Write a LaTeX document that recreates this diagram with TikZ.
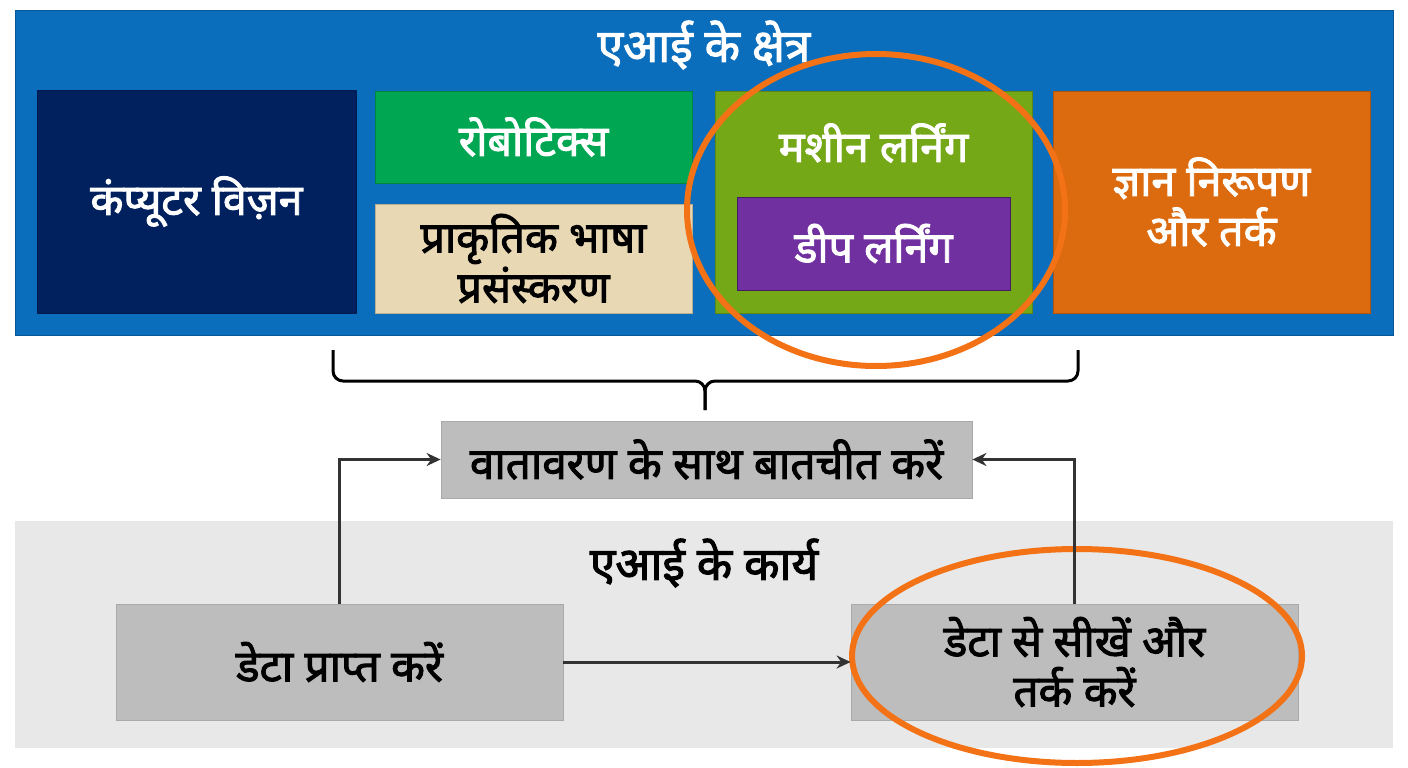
\documentclass[tikz,border=0pt]{standalone}
\usepackage{fontspec}
\newfontfamily\hindi[Script=Devanagari,AutoFakeBold=2.2]{Noto Sans}
\usetikzlibrary{shapes.geometric,arrows.meta}
\definecolor{fieldblue}{HTML}{0A6EBD}
\definecolor{cvnavy}{HTML}{00215E}
\definecolor{robgreen}{HTML}{00A651}
\definecolor{nlpbeige}{HTML}{E8D8B4}
\definecolor{mlgreen}{HTML}{74A816}
\definecolor{dlpurple}{HTML}{7030A0}
\definecolor{krorange}{HTML}{DC6A0E}
\definecolor{ringorange}{HTML}{F47216}
\definecolor{taskgray}{HTML}{BDBDBD}
\definecolor{panelgray}{HTML}{E8E8E8}
\definecolor{linkgray}{HTML}{333333}
\begin{document}
\begin{tikzpicture}[x=1pt,y=-1pt,
  field/.style={fill=#1,draw=#1!80!black,line width=1pt,inner sep=0pt,align=center,
    text=white,font=\hindi\bfseries\fontsize{43}{50}\selectfont},
  task/.style={fill=taskgray,draw=taskgray!90!black,line width=0.8pt,inner sep=0pt,align=center,
    font=\hindi\bfseries\fontsize{44}{50}\selectfont},
  ring/.style={ellipse,draw=ringorange,line width=6pt,inner sep=0pt},
  link/.style={draw=linkgray,line width=3pt,-{Stealth[length=14pt,width=13pt]}}]
\useasboundingbox (0,0) rectangle (1408,768);
\node[fill=fieldblue,draw=fieldblue!80!black,minimum width=1378pt,minimum height=325pt] (fields) at (704,172.5) {};
\node[text=white,font=\hindi\bfseries\fontsize{46}{50}\selectfont] (fieldstitle) at (704,45) {एआई के क्षेत्र};
\node[field=cvnavy,minimum width=319pt,minimum height=223pt] (cv) at (196.5,201.5) {कंप्यूटर विज़न};
\node[field=robgreen,minimum width=317pt,minimum height=92pt] (rob) at (533.5,137) {रोबोटिक्स};
\node[field=nlpbeige,text=black,minimum width=317pt,minimum height=109pt] (nlp) at (533.5,258.5) {प्राकृतिक भाषा\\प्रसंस्करण};
\node[field=mlgreen,minimum width=317pt,minimum height=222pt] (ml) at (873.5,202) {};
\node[text=white,font=\hindi\bfseries\fontsize{43}{50}\selectfont] (mltitle) at (873.5,143) {मशीन लर्निंग};
\node[field=dlpurple,draw=dlpurple!60!black,minimum width=273pt,minimum height=93pt] (dl) at (873.5,243.5) {डीप लर्निंग};
\node[field=krorange,minimum width=317pt,minimum height=222pt] (kr) at (1211.5,202) {ज्ञान निरूपण\\और तर्क};
\node[ring,minimum width=378pt,minimum height=312pt] (mlring) at (876,210) {};
% brace
\draw[line width=3pt,rounded corners=10pt] (333,350) -- (333,381) -- (705,381) -- (705,410);
\draw[line width=3pt,rounded corners=10pt] (1078,350) -- (1078,381) -- (705,381) -- (705,410);
\node[task,minimum width=531pt,minimum height=77pt] (interact) at (706.5,459.5) {वातावरण के साथ बातचीत करें};
\node[fill=panelgray,minimum width=1378pt,minimum height=227pt] (tasks) at (704,634.5) {};
\node[font=\hindi\bfseries\fontsize{46}{50}\selectfont] (taskstitle) at (704,563) {एआई के कार्य};
\node[task,minimum width=447pt,minimum height=116pt] (data) at (339.5,662) {डेटा प्राप्त करें};
\node[task,minimum width=447pt,minimum height=116pt] (learn) at (1074.5,662) {डेटा से सीखें और\\तर्क करें};
\node[ring,minimum width=450pt,minimum height=214pt] (learnring) at (1077,656) {};
\draw[link] (data) -- (learn);
\draw[link] (data.north) |- (interact.west);
\draw[link] (learn.north) |- (interact.east);
\end{tikzpicture}
\end{document}
